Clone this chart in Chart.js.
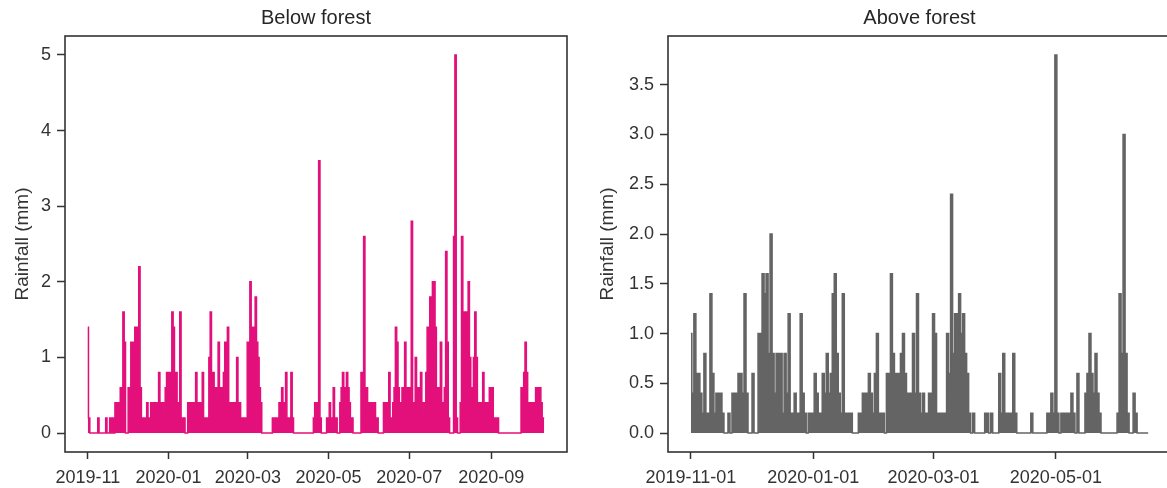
<!DOCTYPE html>
<html><head><meta charset="utf-8">
<script src="https://cdn.jsdelivr.net/npm/chart.js@4.4.1/dist/chart.umd.min.js"></script>
<style>
html,body{margin:0;padding:0;background:#fff;overflow:hidden;width:1167px;height:488px;}
canvas{position:absolute;top:0;}
#c1{left:0;} #c2{left:583px;}
</style></head><body>
<canvas id="c1" width="580" height="488"></canvas>
<canvas id="c2" width="600" height="488"></canvas>
<script>
// ---------------- DATA ----------------
const seriesStart = '2019-11-01';          // day 0 of both series
const yLabel = 'Rainfall (mm)';

// Below forest: daily rainfall readings (day offset from seriesStart, mm); unlisted days = 0
const belowTitle = 'Below forest';
const belowLastDay = 345;
const belowDay = [0,1,8,14,17,19,21,22,23,24,25,26,27,28,
  31,32,33,34,35,36,37,38,39,40,41,42,43,44,45,46,47,48,49,50,51,52,53,54,55,56,57,58,59,60,61,62,63,64,65,66,67,68,69,70,71,72,73,
  76,77,78,79,80,81,82,83,84,85,86,87,88,89,90,91,92,93,94,95,96,97,98,99,100,101,102,103,104,105,106,107,108,109,110,111,112,113,114,115,116,117,118,119,120,121,122,123,124,125,126,127,128,129,130,131,
  140,141,142,143,144,145,146,147,148,149,150,151,152,153,154,155,
  171,172,173,174,175,176,
  181,182,183,184,185,186,187,188,
  191,192,193,194,195,196,197,198,199,200,
  207,208,209,210,211,212,213,214,215,216,217,218,219,
  224,225,226,227,228,229,230,231,232,233,234,235,236,237,238,239,240,241,242,243,244,245,246,247,248,249,250,251,252,253,254,255,256,257,258,259,260,261,262,263,264,265,266,267,268,269,270,271,272,273,
  277,278,279,
  282,283,284,285,286,287,288,289,290,291,292,293,294,295,296,297,298,299,300,301,302,303,304,305,306,307,308,309,310,
  328,329,330,331,332,333,334,335,336,337,338,339,340,341,342,343,344,345];
const belowRain = [1.4,0.2,0.2,0.2,0.2,0.2,0.4,0.4,0.4,0.4,0.6,0.6,1.6,1.2,
  0.6,0.2,1.2,1.2,1.2,1.4,1.4,0.6,2.2,0.6,0.2,0.2,0.2,0.2,0.4,0.2,0.2,0.4,0.2,0.4,0.2,0.4,0.2,0.8,0.4,0.4,0.4,0.2,0.6,0.8,0.8,0.6,0.8,1.6,1.4,0.6,0.8,0.4,0.2,1.6,0.2,0.2,0.2,
  0.4,0.4,0.4,0.4,0.2,0.4,0.8,0.4,0.2,0.4,0.2,0.8,0.2,0.2,0.2,0.2,1.0,1.6,0.8,0.8,0.6,0.6,0.4,1.2,0.6,0.6,0.4,0.8,1.2,1.2,1.4,0.4,0.4,0.4,0.4,0.2,0.4,1.0,0.4,0.4,0.2,0.2,0.2,0.2,0.2,1.2,1.2,2.0,1.4,1.4,1.2,1.8,1.2,1.0,0.6,0.4,
  0.2,0.2,0.2,0.2,0.2,0.4,0.4,0.6,0.4,0.4,0.8,0.2,0.2,0.2,0.8,0.2,
  0.2,0.4,0.4,0.4,3.6,0.2,
  0.2,0.2,0.4,0.2,0.2,0.6,0.2,0.2,
  0.4,0.6,0.8,0.6,0.4,0.8,0.6,0.4,0.2,0.2,
  0.8,0.4,2.6,0.6,0.6,0.2,0.4,0.4,0.2,0.4,0.4,0.2,0.2,
  0.4,0.4,0.4,0.2,0.8,0.2,0.2,0.4,0.6,1.4,1.2,0.6,0.4,0.4,0.6,0.6,1.2,0.6,0.4,0.6,0.4,2.8,0.4,0.4,1.0,0.4,0.6,0.4,0.8,0.2,0.4,0.4,0.8,1.4,1.4,1.8,1.4,2.0,2.0,1.4,0.6,0.4,0.6,1.2,0.4,0.4,0.6,2.4,1.2,0.2,
  2.6,5.0,0.2,
  0.4,2.6,1.6,1.4,1.6,1.4,2.0,1.0,0.6,0.6,1.0,1.6,1.0,0.4,0.4,0.2,0.4,0.8,0.4,0.4,0.4,0.2,0.6,0.6,0.6,0.2,0.2,0.2,0.2,
  0.6,0.6,0.8,1.2,0.8,0.2,0.4,0.4,0.4,0.4,0.2,0.6,0.6,0.6,0.6,0.4,0.2,0.2];
const belowTickDates  = ['2019-11-01','2020-01-01','2020-03-01','2020-05-01','2020-07-01','2020-09-01'];
const belowTickLabels = ['2019-11','2020-01','2020-03','2020-05','2020-07','2020-09'];
const belowYTicks = [0,1,2,3,4,5];

// Above forest
const aboveTitle = 'Above forest';
const aboveLastDay = 228;
const aboveDay = [0,1,2,3,4,5,6,7,8,9,10,11,12,13,14,15,16,
  19,21,22,23,24,25,26,27,28,31,
  34,35,36,37,38,39,40,41,42,43,44,45,46,47,48,49,50,51,52,53,54,55,56,57,
  59,60,61,62,63,64,65,66,67,68,69,70,71,72,73,74,75,76,77,78,79,80,
  84,85,86,87,88,89,90,91,92,93,94,95,96,
  98,99,100,101,102,103,104,105,106,107,108,109,110,111,112,113,114,115,116,117,118,119,120,121,122,123,124,125,126,127,128,129,130,131,132,133,134,135,136,137,138,139,
  141,147,148,150,
  154,155,156,157,158,159,160,161,162,170,
  178,179,180,181,182,183,185,186,187,188,189,190,191,193,
  197,198,199,200,201,202,203,204,
  213,214,215,216,217,218,221,222];
const aboveRain = [1.0,0.4,1.2,0.6,0.6,0.4,0.2,0.8,0.2,0.2,1.4,0.6,0.2,0.4,0.4,0.4,0.2,
  0.2,0.4,0.4,0.4,0.6,0.6,0.4,1.4,0.4,0.6,
  1.0,1.0,1.6,1.4,1.6,0.8,2.0,0.8,0.4,0.8,0.8,0.8,0.2,0.8,0.4,1.2,0.2,0.2,0.4,0.2,0.2,1.2,0.4,0.2,
  0.2,0.2,0.2,0.6,0.4,0.2,0.2,0.6,0.4,0.8,0.4,0.6,1.4,1.6,0.8,0.4,0.2,1.4,0.2,0.2,0.2,0.2,
  0.2,0.2,0.4,0.4,0.4,0.6,0.4,0.2,0.6,1.0,0.2,0.2,0.2,
  0.6,0.6,1.6,0.8,0.6,0.6,0.6,0.8,1.0,0.6,0.4,0.4,0.4,1.0,0.4,1.4,0.4,0.2,0.4,0.2,0.2,0.4,0.4,1.2,1.0,0.2,0.2,0.2,0.2,0.2,1.0,0.6,2.4,0.8,1.2,1.2,1.4,1.0,1.2,0.8,0.6,0.2,
  0.2,0.2,0.2,0.2,
  0.6,0.2,0.8,0.2,0.2,0.2,0.2,0.8,0.2,0.2,
  0.2,0.2,0.4,0.2,3.8,0.2,0.2,0.2,0.2,0.2,0.2,0.4,0.2,0.6,
  0.4,0.6,1.0,0.6,0.4,0.8,0.4,0.2,
  0.2,1.4,0.8,3.0,0.8,0.2,0.4,0.2];
const aboveTickDates  = ['2019-11-01','2020-01-01','2020-03-01','2020-05-01'];
const aboveTickLabels = ['2019-11-01','2020-01-01','2020-03-01','2020-05-01'];
const aboveYTicks = [0,0.5,1.0,1.5,2.0,2.5,3.0,3.5];

// ---------------- DRAWING ----------------
const FONT = "'Liberation Sans', Arial, sans-serif";
const DAY = 86400000;
function dayOf(s){ return Math.round((Date.parse(s+'T00:00:00Z') - Date.parse(seriesStart+'T00:00:00Z'))/DAY); }
function buildPoints(days, vals, last){
  const m = new Map(); days.forEach((d,i)=>m.set(d, vals[i]));
  const pts = [];
  for (let d = 0; d <= last; d++) pts.push({x:d, y: m.has(d) ? m.get(d) : 0});
  return pts;
}
// frame around the plot area + panel title centred over the plot area
const framePlugin = {
  id:'frame',
  afterDatasetsDraw(chart, args, opts){
    const {ctx, chartArea:a} = chart;
    ctx.save(); ctx.strokeStyle = '#333'; ctx.lineWidth = 1.6;
    ctx.strokeRect(a.left, a.top, a.right - a.left, a.bottom - a.top);
    ctx.fillStyle = '#262626'; ctx.font = '20px ' + FONT;
    ctx.textAlign = 'center'; ctx.textBaseline = 'middle';
    ctx.fillText(opts.text, (a.left + a.right) / 2, 18);
    ctx.restore();
  }
};
function makeChart(id, cfg){
  const xTicks = cfg.tickDates.map(dayOf);
  const xm = cfg.lastDay * 0.05;
  const ymax = Math.max(...cfg.rain), ym = ymax * 0.05;
  new Chart(document.getElementById(id), {
    type:'line',
    data:{datasets:[{data: buildPoints(cfg.days, cfg.rain, cfg.lastDay), borderColor: cfg.color,
      backgroundColor: cfg.color, borderWidth: 1.5, pointRadius: 0, fill: 'origin', stepped: 'middle'}]},
    options:{
      responsive:false, animation:false, events:[],
      layout:{padding:{left:0, right:cfg.padRight, top:36, bottom:0}},
      plugins:{legend:{display:false}, tooltip:{enabled:false}, title:{display:false},
        frame:{text:cfg.title}},
      scales:{
        x:{type:'linear', min:-xm, max:cfg.lastDay + xm,
          afterBuildTicks: s => { s.ticks = xTicks.map(v => ({value:v})); },
          afterFit: s => { s.height = 36; },
          ticks:{autoSkip:false, maxRotation:0, padding:8, color:'#333', font:{family:FONT, size:18},
            callback:(v, i) => cfg.tickLabels[i]},
          grid:{display:true, drawOnChartArea:false, drawTicks:true, tickLength:7, tickWidth:1.5, tickColor:'#333'},
          border:{display:false}},
        y:{type:'linear', min:-ym, max:ymax + ym,
          afterBuildTicks: s => { s.ticks = cfg.yTicks.map(v => ({value:v})); },
          afterFit: s => { s.width = cfg.yWidth; },
          ticks:{autoSkip:false, padding:6, color:'#333', font:{family:FONT, size:18},
            callback:(v) => v.toFixed(cfg.yDec)},
          grid:{display:true, drawOnChartArea:false, drawTicks:true, tickLength:8, tickWidth:1.5, tickColor:'#333'},
          border:{display:false},
          title:{display:true, text:yLabel, color:'#333', font:{family:FONT, size:19}, padding:{top:cfg.titlePad, bottom:0}}}
      }
    },
    plugins:[framePlugin]
  });
}
makeChart('c1', {title:belowTitle, days:belowDay, rain:belowRain, lastDay:belowLastDay,
  tickDates:belowTickDates, tickLabels:belowTickLabels, yTicks:belowYTicks, yDec:0,
  color:'#e3107c', yWidth:65, padRight:13, titlePad:11});
makeChart('c2', {title:aboveTitle, days:aboveDay, rain:aboveRain, lastDay:aboveLastDay,
  tickDates:aboveTickDates, tickLabels:aboveTickLabels, yTicks:aboveYTicks, yDec:1,
  color:'#646464', yWidth:85, padRight:12, titlePad:13});
</script>
</body></html>
